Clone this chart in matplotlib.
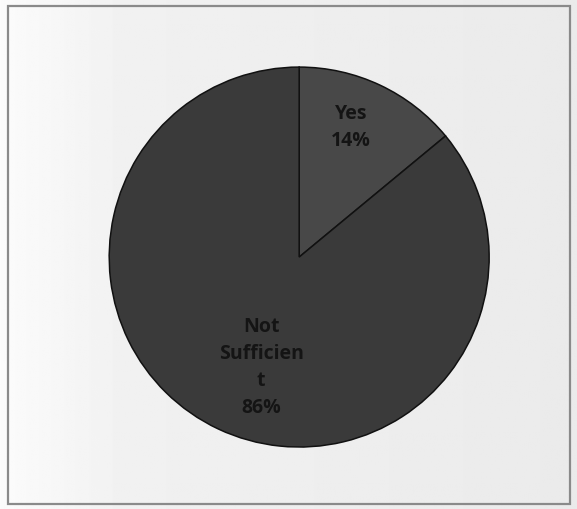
#!/usr/bin/env python3

import numpy as np
import matplotlib.pyplot as plt
from matplotlib.patches import Rectangle

labels = ['Yes', 'Not\nSufficien\nt']
values = [14, 86]
colors = ['#484848', '#3a3a3a']
label_dist = [0.74, 0.61]
label_shift = [3.5, 6.0]   # degrees, nudges label off the wedge bisector

fig = plt.figure(figsize=(5.77, 5.10), dpi=100)
fig.patch.set_facecolor('#f4f4f4')

# soft paper-like background, lighter on the left
bg = fig.add_axes([0, 0, 1, 1], zorder=0)
grad = np.linspace(0.95, 0.92, 256)
grad[:50] = np.linspace(0.985, 0.95, 50)
bg.imshow(np.tile(grad, (10, 1)), cmap='gray', vmin=0, vmax=1,
          aspect='auto', extent=[0, 1, 0, 1])
bg.set_xlim(0, 1)
bg.set_ylim(0, 1)
bg.axis('off')
bg.add_patch(Rectangle((8 / 577, 5 / 510), 562 / 577, 498 / 510,
                       fill=False, edgecolor='#8a8a8a', linewidth=1.6))

ax = fig.add_axes([0.189, 0.1215, 0.659, 0.745], zorder=1)
wedges, _ = ax.pie(values, colors=colors, startangle=90, counterclock=False,
                   wedgeprops=dict(edgecolor='#111111', linewidth=1.1))

for w, lab, v, d, s in zip(wedges, labels, values, label_dist, label_shift):
    mid = np.deg2rad((w.theta1 + w.theta2) / 2 + s)
    ax.text(d * np.cos(mid), d * np.sin(mid), '%s\n%d%%' % (lab, v),
            ha='center', va='center', fontsize=14, fontweight='bold',
            family='Open Sans', color='#141414', linespacing=1.45)

ax.set_xlim(-1, 1)
ax.set_ylim(-1, 1)
ax.set_aspect('equal')

plt.savefig('out.png', dpi=100)
